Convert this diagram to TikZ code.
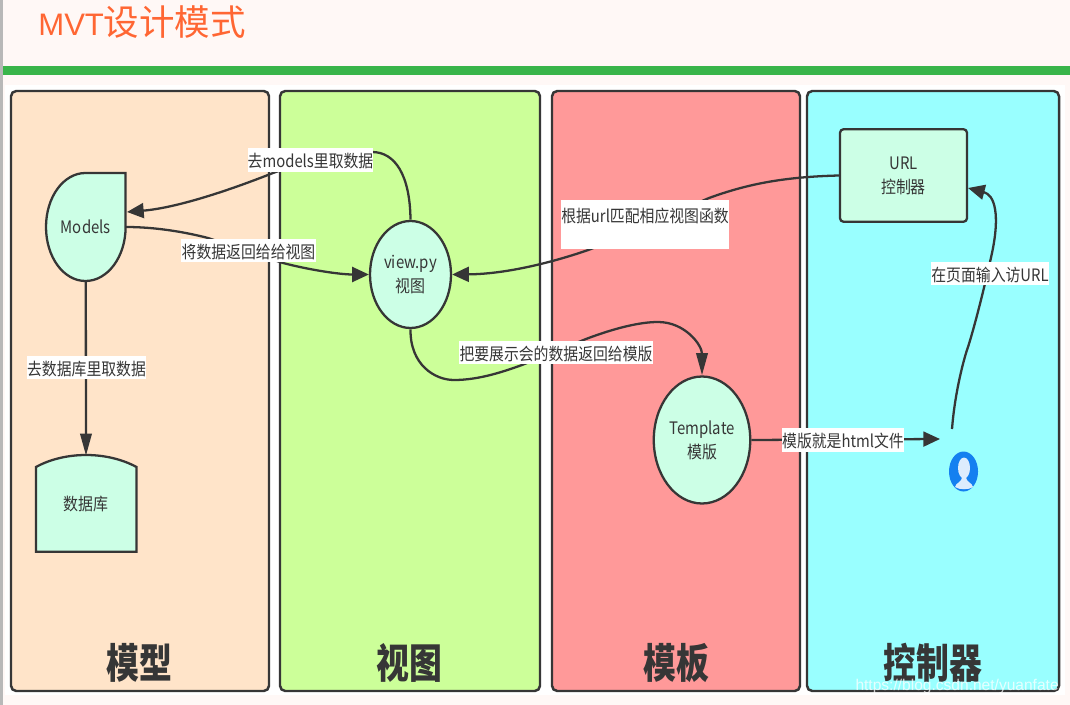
\documentclass[tikz,border=0pt]{standalone}
\usepackage{fontspec}
\setmainfont{Noto Sans CJK SC}
\newfontfamily\latinfont{Liberation Sans}
\usepackage{tikz}
\usetikzlibrary{arrows.meta, shapes.geometric}

\definecolor{pagebg}{HTML}{FFF8F6}
\definecolor{barcol}{HTML}{39B54A}
\definecolor{titlecol}{HTML}{FF6633}
\definecolor{linecol}{HTML}{363636}
\definecolor{nodecol}{HTML}{CCFFE6}
\definecolor{modelcol}{HTML}{FFE4C9}
\definecolor{viewcol}{HTML}{CCFF99}
\definecolor{tplcol}{HTML}{FF9999}
\definecolor{ctrlcol}{HTML}{99FFFF}
\definecolor{usercol}{HTML}{1480F0}

\tikzset{
  panel/.style={draw=linecol,line width=1.4pt,rounded corners=3pt},
  heading/.style={text=linecol,yscale=1.25,transform shape,font=\fontsize{18.7}{20}\selectfont\bfseries},
  shapeline/.style={draw=linecol,fill=nodecol,line width=1.3pt},
  shapetext/.style={inner sep=0pt,align=center,text=linecol,yscale=1.15,transform shape,font=\fontsize{8.5}{11.8}\selectfont},
  blob/.style={shapetext,ellipse,draw=linecol,fill=nodecol,line width=1.3pt},
  edge/.style={draw=linecol,line width=1.3pt,-{Triangle[length=9.5pt,width=8.5pt]}},
  longtip/.style={-{Triangle[length=12.5pt,width=6.5pt]}},
  tag/.style={fill=white,inner sep=0pt,text=linecol,yscale=1.15,transform shape,minimum height=0.41cm,text height=0.3cm,text depth=0.03cm,font=\fontsize{8.45}{10}\selectfont}
}

\begin{document}
\begin{tikzpicture}[x=0.02cm,y=-0.02cm]
  \useasboundingbox (0,0) rectangle (1070,705);

  % fondo
  \fill[pagebg] (0,0) rectangle (1070,705);
  \fill[white] (5,85) rectangle (1065,695);
  \fill[black!28] (0,0) rectangle (2.5,705);
  \fill[barcol] (2.5,66) rectangle (1070,75);
  \node[anchor=west,inner sep=0pt,text=titlecol,font=\fontsize{20.2}{22}\selectfont] (title) at (38,22) {{\latinfont\fontsize{17.7}{22}\selectfont MVT}设计模式};

  % colonne
  \draw[panel,fill=modelcol] (11,91) rectangle (269,691);
  \draw[panel,fill=viewcol] (280,91) rectangle (540,691);
  \draw[panel,fill=tplcol] (552,91) rectangle (800,691);
  \draw[panel,fill=ctrlcol] (807,91) rectangle (1059,691);
  \node[heading] (hmodel) at (139,663) {模型};
  \node[heading] (hview) at (409,663) {视图};
  \node[heading] (htpl) at (676,663) {模板};
  \node[heading] (hctrl) at (933,663) {控制器};

  % forme
  \draw[shapeline] (125.6,173) -- (85.5,173) .. controls (63.5,173) and (46,197) .. (46,227)
    .. controls (46,257) and (63.5,281) .. (85.5,281)
    .. controls (107.5,281) and (125.6,257) .. (125.6,227) -- cycle;
  \node[shapetext,minimum width=1.6cm,minimum height=1.878cm] (models) at (85.8,227) {Models};
  \draw[shapeline] (36,467) .. controls (65,451) and (107,451) .. (136.5,467) -- (136.5,551.7) -- (36,551.7) -- cycle;
  \node[shapetext,minimum width=2cm,minimum height=1.67cm] (db) at (86,504) {数据库};
  \node[blob,minimum width=1.62cm,minimum height=1.861cm] (view) at (410.5,274.5) {view.py\\视图};
  \node[blob,minimum width=1.93cm,minimum height=2.209cm] (tpl) at (702,440) {Template\\模版};
  \node[shapetext,draw=linecol,fill=nodecol,line width=1.3pt,rounded corners=2pt,minimum width=2.54cm,minimum height=1.609cm] (url) at (903.5,175.5) {URL\\控制器};

  % utente
  \fill[usercol] (963.5,471.5) ellipse (14.5 and 20);
  \fill[white!85!usercol] (955,487) .. controls (956,482) and (962,483) .. (962,476) -- (966,476) .. controls (966,483) and (972,482) .. (973,487) .. controls (969,490) and (959,490) .. (955,487) -- cycle;
  \fill[white!85!usercol] (964,468) ellipse (6 and 10.5);
  \coordinate (userin) at (940,439);
  \coordinate (userout) at (952,429);
  \coordinate (modelsin) at (127,212);
  \coordinate (urlin) at (968,188);

  % frecce
  \draw[edge] (view.north) .. controls (410,175) and (395,152) .. (372,152)
    .. controls (330,152) and (310,160) .. (273,173)
    .. controls (225,192) and (175,208) .. (modelsin);
  \draw[edge] (models.east) .. controls (155,227) and (185,232) .. (208,238)
    -- (283,263) .. controls (310,270) and (340,274.5) .. (view.west);
  \draw[edge] (url.west) .. controls (780,177) and (745,185) .. (709,198)
    -- (591,249) .. controls (560,260) and (510,274) .. (view.east);
  \draw[edge,longtip] (view.south) .. controls (410,365) and (435,380) .. (454,380)
    .. controls (480,380) and (505,371) .. (522,365)
    -- (586,339) .. controls (615,328) and (640,322) .. (658,322)
    .. controls (685,322) and (702,345) .. (tpl.north);
  \draw[edge] (tpl.east) -- (userin);
  \draw[edge] (userout) .. controls (955,390) and (965,355) .. (968,347)
    .. controls (975,325) and (985,285) .. (992,253)
    .. controls (1000,215) and (995,195) .. (urlin);
  \draw[edge,longtip] (models.south) -- (db.north);

  % etichette
  \node[tag,minimum width=2.49cm] (lfetch) at (310.5,160) {去models里取数据};
  \node[tag,minimum width=2.7cm] (lback) at (248.5,250.5) {将数据返回给给视图};
  \node[tag,minimum width=3.88cm] (lshow) at (556,352.5) {把要展示会的数据返回给模版};
  \node[tag,minimum width=3.35cm,minimum height=0.85cm,text depth=0.37cm] (lurl) at (645,224.5) {根据url匹配相应视图函数};
  \node[tag,minimum width=2.35cm] (linput) at (990,273.5) {在页面输入访URL};
  \node[tag,minimum width=2.43cm] (lhtml) at (843,440) {模版就是html文件};
  \node[tag,minimum width=2.38cm] (ldb) at (86.5,367.5) {去数据库里取数据};

  % firma
  \node[anchor=east,inner sep=0pt,text=white,opacity=0.75,font=\latinfont\fontsize{8.85}{10}\selectfont] (mark) at (1059,686) {https://blog.csdn.net/yuanfate};
\end{tikzpicture}
\end{document}
